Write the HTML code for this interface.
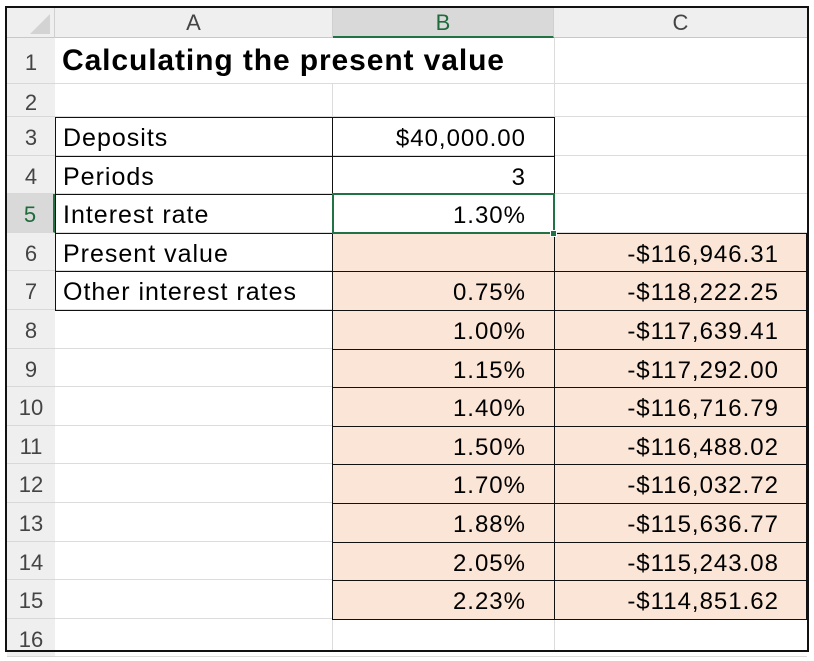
<!DOCTYPE html><html><head><style>
body{margin:0;width:814px;height:657px;background:#fff;position:relative;overflow:hidden;font-family:"Liberation Sans",sans-serif}
.a{position:absolute;box-sizing:border-box}
.h{background:#efefef;color:#444;font-size:22px;text-align:center}
.t{font-size:24px;color:#000;white-space:nowrap}
.r{text-align:right;padding-right:28px;letter-spacing:1px}
</style></head><body>
<!-- gridlines -->
<div class="a" style="left:332px;top:84px;width:1px;height:566px;background:#dcdcdc"></div>
<div class="a" style="left:554px;top:38px;width:1px;height:612px;background:#dcdcdc"></div>
<!-- column headers -->
<div class="a h" style="left:7px;top:8px;width:48px;height:30px;border-right:1px solid #d0d0d0;border-bottom:1px solid #c8c8c8"></div>
<div class="a" style="left:30px;top:14px;width:0;height:0;border-left:20px solid transparent;border-bottom:20px solid #d3d3d3"></div>
<div class="a h" style="left:55px;top:8px;width:278px;height:30px;border-right:1px solid #d0d0d0;border-bottom:1px solid #c8c8c8;line-height:30px">A</div>
<div class="a h" style="left:333px;top:8px;width:221px;height:30px;background:#d9d9d9;color:#1e6b3c;border-right:1px solid #d0d0d0;border-bottom:2px solid #217346;line-height:30px">B</div>
<div class="a h" style="left:554px;top:8px;width:253px;height:30px;border-bottom:1px solid #c8c8c8;line-height:30px">C</div>
<!-- row headers -->
<div class="a" style="left:7px;top:38px;width:48px;height:612px;background:#efefef;border-right:1px solid #c8c8c8"></div>
<div id="rows"></div>
<!-- frame -->
<div class="a" style="left:5px;top:6px;width:804px;height:646px;border:2px solid #111"></div>
<script>
var tops=[38,84,117];for(var r=4;r<=17;r++)tops.push(117+(r-3)*38.6);
var H='';
for(var i=0;i<16;i++){var t=tops[i],h=tops[i+1]-t;
H+='<div class="a h" style="left:7px;top:'+t+'px;width:48px;height:'+h+'px;line-height:'+(h+4)+'px;'+(i==4?'background:#d9d9d9;color:#1e6b3c;border-right:2px solid #217346;':'')+'border-bottom:1px solid #d8d8d8">'+(i+1)+'</div>';
H+='<div class="a" style="left:55px;top:'+(t+h-1)+'px;width:752px;height:1px;background:#dcdcdc"></div>';}
H+='<div class="a" style="left:333px;top:'+tops[5]+'px;width:474px;height:'+(tops[15]-tops[5])+'px;background:#fbe5d6"></div>';
for(var i=2;i<=6;i++){H+='<div class="a" style="left:55px;top:'+tops[i]+'px;width:278px;height:'+(tops[i+1]-tops[i]+1)+'px;border:1px solid #111"></div>';}
for(var i=2;i<=4;i++){H+='<div class="a" style="left:332px;top:'+tops[i]+'px;width:223px;height:'+(tops[i+1]-tops[i]+1)+'px;border:1px solid #111"></div>';}
for(var i=5;i<=14;i++){H+='<div class="a" style="left:332px;top:'+tops[i]+'px;width:223px;height:'+(tops[i+1]-tops[i]+1)+'px;border:1px solid #111"></div>';
H+='<div class="a" style="left:554px;top:'+tops[i]+'px;width:253px;height:'+(tops[i+1]-tops[i]+1)+'px;border:1px solid #111"></div>';}
H+='<div class="a t" style="left:62px;top:44px;font-size:30px;font-weight:bold;letter-spacing:0.9px">Calculating the present value</div>';
var A=['Deposits','Periods','Interest rate','Present value','Other interest rates'];
for(var k=0;k<5;k++)H+='<div class="a t" style="left:63px;top:'+(tops[k+2]+7)+'px;font-size:25px;letter-spacing:1px">'+A[k]+'</div>';
var B=['$40,000.00','3','1.30%','','0.75%','1.00%','1.15%','1.40%','1.50%','1.70%','1.88%','2.05%','2.23%'];
var C=['','','','-$116,946.31','-$118,222.25','-$117,639.41','-$117,292.00','-$116,716.79','-$116,488.02','-$116,032.72','-$115,636.77','-$115,243.08','-$114,851.62'];
for(var k=0;k<13;k++){var t=tops[k+2]+8;
if(B[k])H+='<div class="a t r" style="left:333px;top:'+t+'px;width:221px">'+B[k]+'</div>';
if(C[k])H+='<div class="a t r" style="left:554px;top:'+t+'px;width:253px">'+C[k]+'</div>';}
H+='<div class="a" style="left:332px;top:'+(tops[4]-1)+'px;width:223px;height:'+(tops[5]-tops[4]+2)+'px;border:2px solid #217346"></div>';
H+='<div class="a" style="left:550px;top:'+(tops[5]-3)+'px;width:7px;height:7px;background:#217346;border:1px solid #fff"></div>';
document.getElementById('rows').innerHTML=H;
</script>
</body></html>
